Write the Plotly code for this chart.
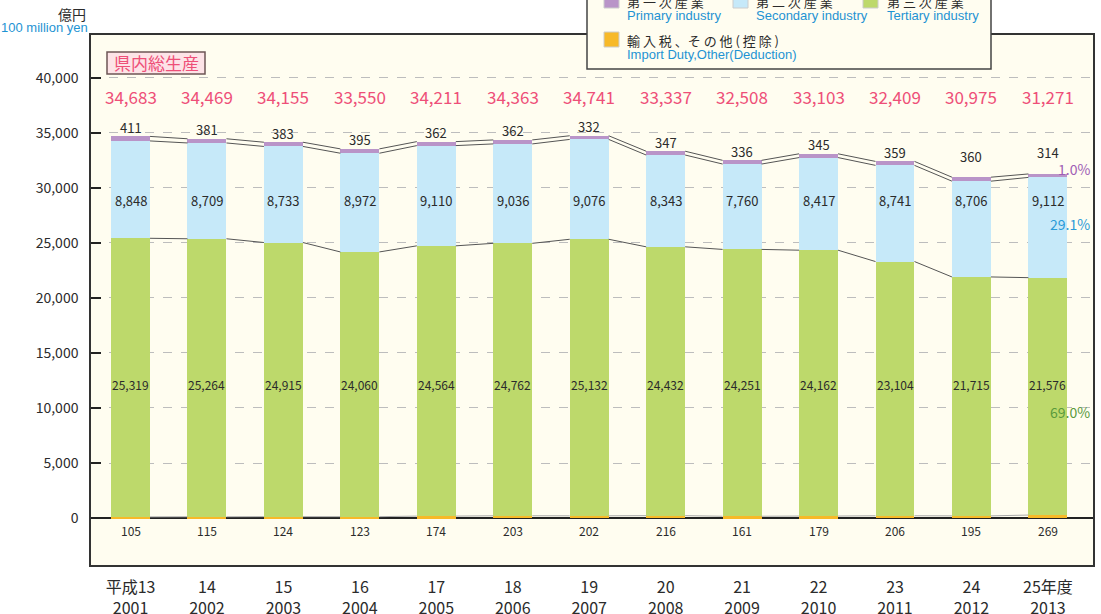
import plotly.graph_objects as go

# 県内総生産（億円）
years_jp = ["平成13", "14", "15", "16", "17", "18", "19", "20", "21", "22", "23", "24", "25年度"]
years_ad = ["2001", "2002", "2003", "2004", "2005", "2006", "2007", "2008", "2009", "2010", "2011", "2012", "2013"]

import_duty = [105, 115, 124, 123, 174, 203, 202, 216, 161, 179, 206, 195, 269]
tertiary = [25319, 25264, 24915, 24060, 24564, 24762, 25132, 24432, 24251, 24162, 23104, 21715, 21576]
secondary = [8848, 8709, 8733, 8972, 9110, 9036, 9076, 8343, 7760, 8417, 8741, 8706, 9112]
primary = [411, 381, 383, 395, 362, 362, 332, 347, 336, 345, 359, 360, 314]
totals = [34683, 34469, 34155, 33550, 34211, 34363, 34741, 33337, 32508, 33103, 32409, 30975, 31271]

share_labels = ["1.0%", "29.1%", "69.0%"]

C_ORANGE = "#f7b928"
C_GREEN = "#bdd96b"
C_BLUE = "#c6e9f9"
C_PURPLE = "#b994c8"
C_BG = "#fffdf0"
C_PINK = "#ee4f78"
C_EN = "#1e93d3"
C_DARK = "#2b2b2b"
FONT = "Noto Sans CJK JP"
FONT_EN = "Liberation Sans"

# plot area in page pixels
PX_L, PX_R, PX_T, PX_B = 91, 1093, 35, 565
W, H = 1101, 614


def px(x):
    return (x - PX_L) / (PX_R - PX_L)


def py(y):
    return (PX_B - y) / (PX_B - PX_T)


def page_text(x, y, text, size, color, family=FONT, xanchor="center"):
    return dict(xref="paper", yref="paper", x=px(x), y=py(y), xanchor=xanchor,
                yanchor="middle", text=text, showarrow=False,
                font=dict(size=size, color=color, family=family))


xs = list(range(len(years_ad)))
bar_w = 0.51

fig = go.Figure()
for vals, col, name in [
    (import_duty, C_ORANGE, "輸入税、その他(控除)"),
    (tertiary, C_GREEN, "第三次産業"),
    (secondary, C_BLUE, "第二次産業"),
    (primary, C_PURPLE, "第一次産業"),
]:
    fig.add_trace(go.Bar(
        x=xs, y=vals, width=bar_w, name=name,
        marker=dict(color=col, line=dict(width=0)),
        hoverinfo="y", showlegend=False,
    ))

# connector lines between neighbouring bars at each segment boundary
levels = []
run = [0] * len(xs)
for vals in (import_duty, tertiary, secondary, primary):
    run = [a + b for a, b in zip(run, vals)]
    levels.append(list(run))

for k, lev in enumerate(levels):
    lx, ly = [], []
    for i in range(len(xs) - 1):
        lx += [xs[i] + bar_w / 2, xs[i + 1] - bar_w / 2, None]
        ly += [lev[i], lev[i + 1], None]
    fig.add_trace(go.Scatter(
        x=lx, y=ly, mode="lines", showlegend=False, hoverinfo="skip",
        line=dict(color="#aaaaaa" if k == 0 else "#555555", width=1),
    ))

ann = []
Y_TOTAL, Y_SEC, Y_TER, Y_IMP = 38300, 28900, 12100, -1100
for i in xs:
    ann.append(dict(x=i, y=Y_TOTAL, text=f"{totals[i]:,}", showarrow=False,
                    font=dict(size=17, color=C_PINK, family=FONT)))
    # the last two labels sit higher to leave room for the share text
    ann.append(dict(x=i, y=levels[3][i], yanchor="middle",
                    yshift=9 if i < len(xs) - 2 else 21,
                    text=f"{primary[i]:,}", showarrow=False,
                    font=dict(size=13, color=C_DARK, family=FONT)))
    ann.append(dict(x=i, y=Y_SEC, text=f"{secondary[i]:,}", showarrow=False,
                    font=dict(size=13, color=C_DARK, family=FONT)))
    ann.append(dict(x=i, y=Y_TER, text=f"{tertiary[i]:,}", showarrow=False,
                    font=dict(size=12, color=C_DARK, family=FONT)))
    ann.append(dict(x=i, y=Y_IMP, text=f"{import_duty[i]:,}", showarrow=False,
                    font=dict(size=12, color=C_DARK, family=FONT)))

# composition shares of the latest year
for txt, ypix, col in zip(share_labels, [169, 224, 412], ["#a05db5", "#2a9bd8", "#5a9a3c"]):
    ann.append(page_text(1092, ypix, txt, 14, col, xanchor="right"))

# unit label
ann.append(page_text(88, 14, "億円", 14, C_DARK, xanchor="right"))
ann.append(page_text(90, 28, "100 million yen", 13, C_EN, FONT_EN, xanchor="right"))

# title box
ann.append(page_text(156, 63, "県内総生産", 17, C_PINK))

shapes = [
    dict(type="rect", xref="paper", yref="paper", x0=px(107), x1=px(205), y0=py(74), y1=py(52),
         fillcolor="#fde3e7", line=dict(color="#6d5656", width=1.5), layer="above"),
    # legend frame
    dict(type="rect", xref="paper", yref="paper", x0=px(587), x1=px(991), y0=py(69), y1=py(-10),
         fillcolor=C_BG, line=dict(color="#444444", width=1.5), layer="above"),
]

legend_items = [
    (604, -7, C_PURPLE, "第 一 次 産 業", "Primary industry"),
    (733, -7, C_BLUE, "第 二 次 産 業", "Secondary industry"),
    (863, -7, C_GREEN, "第 三 次 産 業", "Tertiary industry"),
    (604, 32, C_ORANGE, "輸 入 税 、そ の 他 ( 控 除 )", "Import Duty,Other(Deduction)"),
]
for lx, ly, col, jp, en in legend_items:
    shapes.append(dict(type="rect", xref="paper", yref="paper", x0=px(lx), x1=px(lx + 15),
                       y0=py(ly + 15), y1=py(ly), fillcolor=col,
                       line=dict(color="#cccccc", width=1), layer="above"))
    tx = lx + 21 if lx != 863 else lx + 22
    ann.append(page_text(tx, ly + 8, jp, 13, C_DARK, xanchor="left"))
    ann.append(page_text(tx, ly + 22, en, 13, C_EN, FONT_EN, xanchor="left"))

fig.update_layout(
    width=W, height=H,
    margin=dict(l=PX_L, r=W - PX_R, t=PX_T, b=H - PX_B, pad=0, autoexpand=False),
    barmode="stack", bargap=0,
    paper_bgcolor="white", plot_bgcolor=C_BG,
    font=dict(family=FONT, color=C_DARK),
    annotations=ann, shapes=shapes,
    showlegend=False,
)
fig.update_xaxes(
    automargin=False,
    range=[-0.517, 12.59], tickvals=xs,
    ticktext=[f"{a}<br>{b}" for a, b in zip(years_jp, years_ad)],
    tickfont=dict(size=16, color=C_DARK, family=FONT),
    ticks="", ticklabelstandoff=7,
    showgrid=False, zeroline=False,
    showline=True, mirror=True, linecolor="#333333", linewidth=1.5,
)
fig.update_yaxes(
    automargin=False,
    range=[-4270, 43900], tickvals=list(range(0, 40001, 5000)),
    tickformat=",", tickfont=dict(size=14, color=C_DARK, family=FONT),
    ticks="inside", ticklen=10, tickwidth=2, tickcolor="#222222", ticklabelstandoff=8,
    showgrid=True, gridcolor="#bdbdbd", griddash="dash", gridwidth=1,
    zeroline=True, zerolinecolor="#222222", zerolinewidth=1.5,
    showline=True, mirror=True, linecolor="#333333", linewidth=1.5,
)

fig.write_html("out.html")
